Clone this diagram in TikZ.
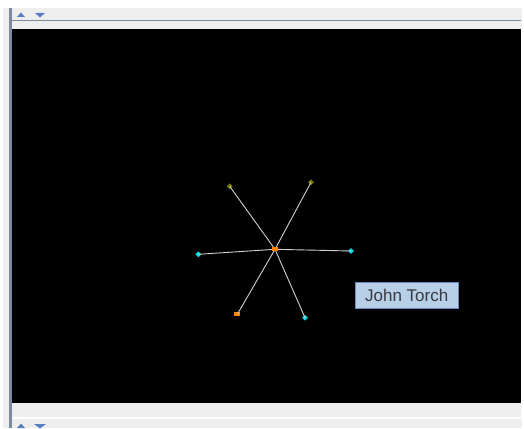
\documentclass[tikz,border=0pt]{standalone}
\usepackage{fontspec}
\setmainfont{Liberation Sans}
\usetikzlibrary{shapes.geometric}
\definecolor{panelgrey}{HTML}{EEEEEE}
\definecolor{slate}{HTML}{7D8BA0}
\definecolor{arrowblue}{HTML}{5A7FC0}
\definecolor{olivenode}{HTML}{7A7A00}
\definecolor{cyannode}{HTML}{00E0E8}
\definecolor{orangenode}{HTML}{FF8000}
\definecolor{edgecol}{HTML}{D0D0D0}
\definecolor{labelfill}{HTML}{B8CFE8}
\definecolor{labelborder}{HTML}{6A88B8}
\definecolor{labeltext}{HTML}{3A3A40}
\tikzset{
  vtx/.style={diamond, inner sep=0pt, minimum size=6pt, fill=#1},
  sqv/.style={rectangle, inner sep=0pt, minimum width=6pt, minimum height=4pt, fill=#1},
  edge/.style={draw=edgecol, line width=0.9pt},
  namelabel/.style={draw=labelborder, fill=labelfill, line width=1pt, text=labeltext,
    font=\fontsize{17}{19}\selectfont, minimum width=103pt, minimum height=26pt, inner sep=0pt},
  tri/.style={fill=arrowblue, draw=none}
}
\begin{document}
\begin{tikzpicture}[x=1pt,y=-1pt]
\useasboundingbox (0,0) rectangle (524,428);
\fill[white] (0,0) rectangle (524,428);
% left grey column and slate bar
\fill[panelgrey] (3,8) rectangle (9,428);
\fill[slate] (9,8) rectangle (12,428);
% top strip
\fill[panelgrey] (12,8) rectangle (522,29);
\draw[slate, line width=1.2pt] (12,20.5) -- (521,20.5);
\fill[tri] (17,17) -- (21,12.5) -- (25,17) -- cycle;
\fill[tri] (35,13) -- (45,13) -- (40,17.5) -- cycle;
% black canvas
\fill[black] (12,29) rectangle (520.5,403);
% bottom strip
\fill[panelgrey] (12,403) rectangle (521,417);
\draw[white, line width=1pt] (12,418) -- (524,418);
\fill[panelgrey] (12,419) rectangle (522,428);
\fill[tri] (17,428) -- (21,423.5) -- (25,428) -- cycle;
\fill[tri] (34,424) -- (46,424) -- (40,428.5) -- cycle;
% graph
\coordinate (c) at (275,249.3);
\node[vtx=olivenode] (tl) at (229.7,186.3) {};
\node[vtx=olivenode] (tr) at (311,182.3) {};
\node[vtx=cyannode] (l) at (198.3,254.3) {};
\node[vtx=cyannode] (r) at (351,251) {};
\node[sqv=orangenode] (bl) at (237.3,314.3) {};
\node[vtx=cyannode] (br) at (305,317.7) {};
\draw[edge] (c) -- (tl.center);
\draw[edge] (c) -- (tr.center);
\draw[edge] (c) -- (l.center);
\draw[edge] (c) -- (r.center);
\draw[edge] (c) -- (bl.center);
\draw[edge] (c) -- (br.center);
\node[sqv=orangenode] (ctr) at (c) {};
% label
\node[namelabel] (john) at (406.7,295) {John Torch};
\end{tikzpicture}
\end{document}
